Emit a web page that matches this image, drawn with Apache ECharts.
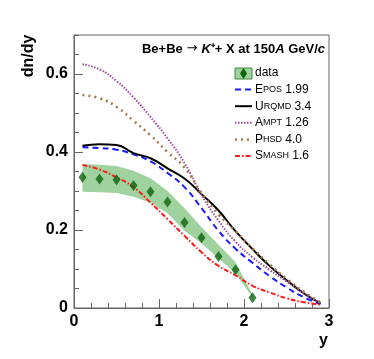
<!DOCTYPE html>
<html>
<head>
<meta charset="utf-8">
<script src="https://cdn.jsdelivr.net/npm/echarts@6/dist/echarts.min.js"></script>
<style>
  html, body { margin: 0; padding: 0; background: #fff; }
  #chart { width: 374px; height: 359px; }
</style>
</head>
<body>
<div id="chart"></div>
<script>
// 测量点 (rapidity bins)
const dataX = [0.1, 0.3, 0.5, 0.7, 0.9, 1.1, 1.3, 1.5, 1.7, 1.9, 2.1];
const dataY = [0.335, 0.331, 0.329, 0.314, 0.298, 0.272, 0.219, 0.180, 0.132, 0.098, 0.026];
// 系统误差带
const bandHigh = [0.369, 0.367, 0.364, 0.352, 0.333, 0.300, 0.256, 0.208, 0.162, 0.117, 0.034];
const bandLow  = [0.298, 0.297, 0.295, 0.285, 0.270, 0.243, 0.198, 0.166, 0.127, 0.089, 0.026];

// 模型曲线
const modelX = [0.1, 0.3, 0.5, 0.7, 0.9, 1.1, 1.3, 1.5, 1.7, 1.9, 2.1, 2.3, 2.5, 2.7, 2.9];
const eposY  = [0.412, 0.410, 0.406, 0.394, 0.376, 0.346, 0.310, 0.256, 0.198, 0.152, 0.116, 0.082, 0.053, 0.028, 0.010];
const urqmdY = [0.416, 0.420, 0.418, 0.397, 0.384, 0.358, 0.332, 0.292, 0.250, 0.197, 0.151, 0.108, 0.072, 0.038, 0.012];
const amptY  = [0.625, 0.612, 0.582, 0.540, 0.490, 0.435, 0.372, 0.290, 0.224, 0.170, 0.130, 0.098, 0.068, 0.038, 0.012];
const phsdY  = [0.546, 0.538, 0.516, 0.480, 0.443, 0.400, 0.360, 0.295, 0.240, 0.197, 0.153, 0.112, 0.075, 0.042, 0.015];
const smashY = [0.367, 0.355, 0.335, 0.310, 0.270, 0.228, 0.185, 0.143, 0.108, 0.084, 0.057, 0.040, 0.025, 0.015, 0.008];

const xTicks = [0, 1, 2, 3];
const yTicks = [0, 0.2, 0.4, 0.6];

const FONT = '"Liberation Sans", Arial, sans-serif';

function pairs(xs, ys) {
    return xs.map((x, i) => [x, ys[i]]);
}

const models = [
    { name: 'EPOS', ver: ' 1.99', ys: eposY, color: '#1a1aff', type: [6, 4], width: 2 },
    { name: 'UrQMD', ver: ' 3.4', ys: urqmdY, color: '#000000', type: 'solid', width: 2 },
    { name: 'AMPT', ver: ' 1.26', ys: amptY, color: '#9c4f9c', type: [1.5, 1.5], width: 2 },
    { name: 'PHSD', ver: ' 4.0', ys: phsdY, color: '#a8774a', type: [2, 4], width: 2.5 },
    { name: 'SMASH', ver: ' 1.6', ys: smashY, color: '#ff1a1a', type: [5, 2, 1.5, 2], width: 2 }
];

// 小型大写字母
const smallCaps = {
    EPOS: '{big|E}{sm|POS}',
    UrQMD: '{big|U}{sm|R}{sm|QMD}',
    AMPT: '{big|A}{sm|MPT}',
    PHSD: '{big|P}{sm|HSD}',
    SMASH: '{big|S}{sm|MASH}'
};

const chart = echarts.init(document.getElementById('chart'));

const series = [];

// 误差带
series.push({
    type: 'custom',
    z: 1,
    silent: true,
    data: dataX.map((x, i) => [x, bandLow[i], bandHigh[i]]),
    renderItem: function(params, api) {
        if (params.dataIndex !== 0) return null;
        const top = dataX.map((x, i) => api.coord([x, bandHigh[i]]));
        const bottom = dataX.map((x, i) => api.coord([x, bandLow[i]])).reverse();
        return {
            type: 'polygon',
            shape: { points: top.concat(bottom) },
            style: { fill: '#9fd29f' }
        };
    }
});

models.forEach(m => {
    series.push({
        type: 'line',
        data: pairs(modelX, m.ys),
        smooth: 0.5,
        showSymbol: false,
        silent: true,
        z: 3,
        lineStyle: { color: m.color, type: m.type, width: m.width }
    });
});

series.push({
    type: 'scatter',
    data: pairs(dataX, dataY),
    symbol: 'diamond',
    symbolSize: [8, 11],
    z: 5,
    itemStyle: { color: '#0d640d' }
});

// 图例
const legendTop = 73;
const legendStep = 16.6;
const graphic = [];

graphic.push({
    type: 'rect',
    shape: { x: 235, y: legendTop - 5, width: 17, height: 11 },
    style: { fill: '#9fd29f', stroke: '#3c8c3c', lineWidth: 1 }
});
graphic.push({
    type: 'polygon',
    shape: { points: [[243.5, legendTop - 5], [247, legendTop + 0.5], [243.5, legendTop + 6], [240, legendTop + 0.5]] },
    style: { fill: '#0d640d' }
});
graphic.push({
    type: 'text',
    x: 255, y: legendTop,
    style: { text: 'data', font: '12px ' + FONT, fill: '#000', verticalAlign: 'middle' }
});

models.forEach((m, i) => {
    const cy = legendTop + (i + 1) * legendStep;
    graphic.push({
        type: 'line',
        shape: { x1: 235, y1: cy, x2: 252, y2: cy },
        style: { stroke: m.color, lineWidth: m.width, lineDash: m.type === 'solid' ? null : m.type }
    });
    graphic.push({
        type: 'text',
        x: 255, y: cy,
        style: {
            text: smallCaps[m.name] + '{big|' + m.ver + '}',
            verticalAlign: 'middle',
            rich: {
                big: { fontSize: 12, fontFamily: FONT, fill: '#000' },
                sm: { fontSize: 9, fontFamily: FONT, fill: '#000' }
            }
        }
    });
});

// 标题
graphic.push({
    type: 'text',
    x: 325, y: 49,
    style: {
        text: '{b|Be+Be }{a|→ }{i|K}{b|⁺+ X at 150}{i|A}{b| GeV/}{i|c}',
        align: 'right',
        verticalAlign: 'middle',
        rich: {
            b: { fontSize: 13, fontWeight: 'bold', fontFamily: FONT, fill: '#000' },
            a: { fontSize: 13, fontFamily: '"DejaVu Sans", sans-serif', fill: '#000' },
            i: { fontSize: 13, fontWeight: 'bold', fontStyle: 'italic', fontFamily: FONT, fill: '#000' }
        }
    }
});

// 坐标轴标题
graphic.push({
    type: 'text',
    x: 29, y: 56,
    rotation: Math.PI / 2,
    style: { text: 'dn/dy', font: 'bold 16px ' + FONT, fill: '#000', align: 'center', verticalAlign: 'middle' }
});
graphic.push({
    type: 'text',
    x: 328, y: 341,
    style: { text: 'y', font: 'bold 16px ' + FONT, fill: '#000', align: 'right', verticalAlign: 'middle' }
});

const option = {
    animation: false,
    grid: {
        left: 74, right: 45, top: 35, bottom: 51,
        show: true, borderColor: '#666', borderWidth: 1
    },
    xAxis: {
        type: 'value',
        min: 0, max: 3, interval: 1,
        axisLine: { show: true, lineStyle: { color: '#666', width: 1 } },
        axisTick: { show: true, inside: true, length: 9, lineStyle: { color: '#666' } },
        minorTick: { show: true, splitNumber: 5, length: 5, lineStyle: { color: '#666' } },
        splitLine: { show: false },
        axisLabel: {
            color: '#000', fontSize: 16, fontWeight: 'bold', fontFamily: FONT, margin: 6,
            formatter: v => xTicks.includes(v) ? String(v) : ''
        }
    },
    yAxis: [
        {
            type: 'value',
            min: 0, max: 0.7, interval: 0.2,
            axisLine: { show: true, lineStyle: { color: '#666', width: 1 } },
            axisTick: { show: true, inside: true, length: 9, lineStyle: { color: '#666' } },
            splitLine: { show: false },
            axisLabel: {
                color: '#000', fontSize: 16, fontWeight: 'bold', fontFamily: FONT, margin: 6,
                showMaxLabel: false,
                formatter: v => yTicks.some(t => Math.abs(t - v) < 1e-6) ? (v === 0 ? '0' : v.toFixed(1)) : ''
            }
        },
        {
            type: 'value',
            position: 'left',
            min: 0, max: 0.7, interval: 0.05,
            axisLine: { show: false },
            axisTick: { show: true, inside: true, length: 5, lineStyle: { color: '#666' } },
            splitLine: { show: false },
            axisLabel: { show: false }
        }
    ],
    series: series,
    graphic: graphic
};

chart.setOption(option);
</script>
</body>
</html>
